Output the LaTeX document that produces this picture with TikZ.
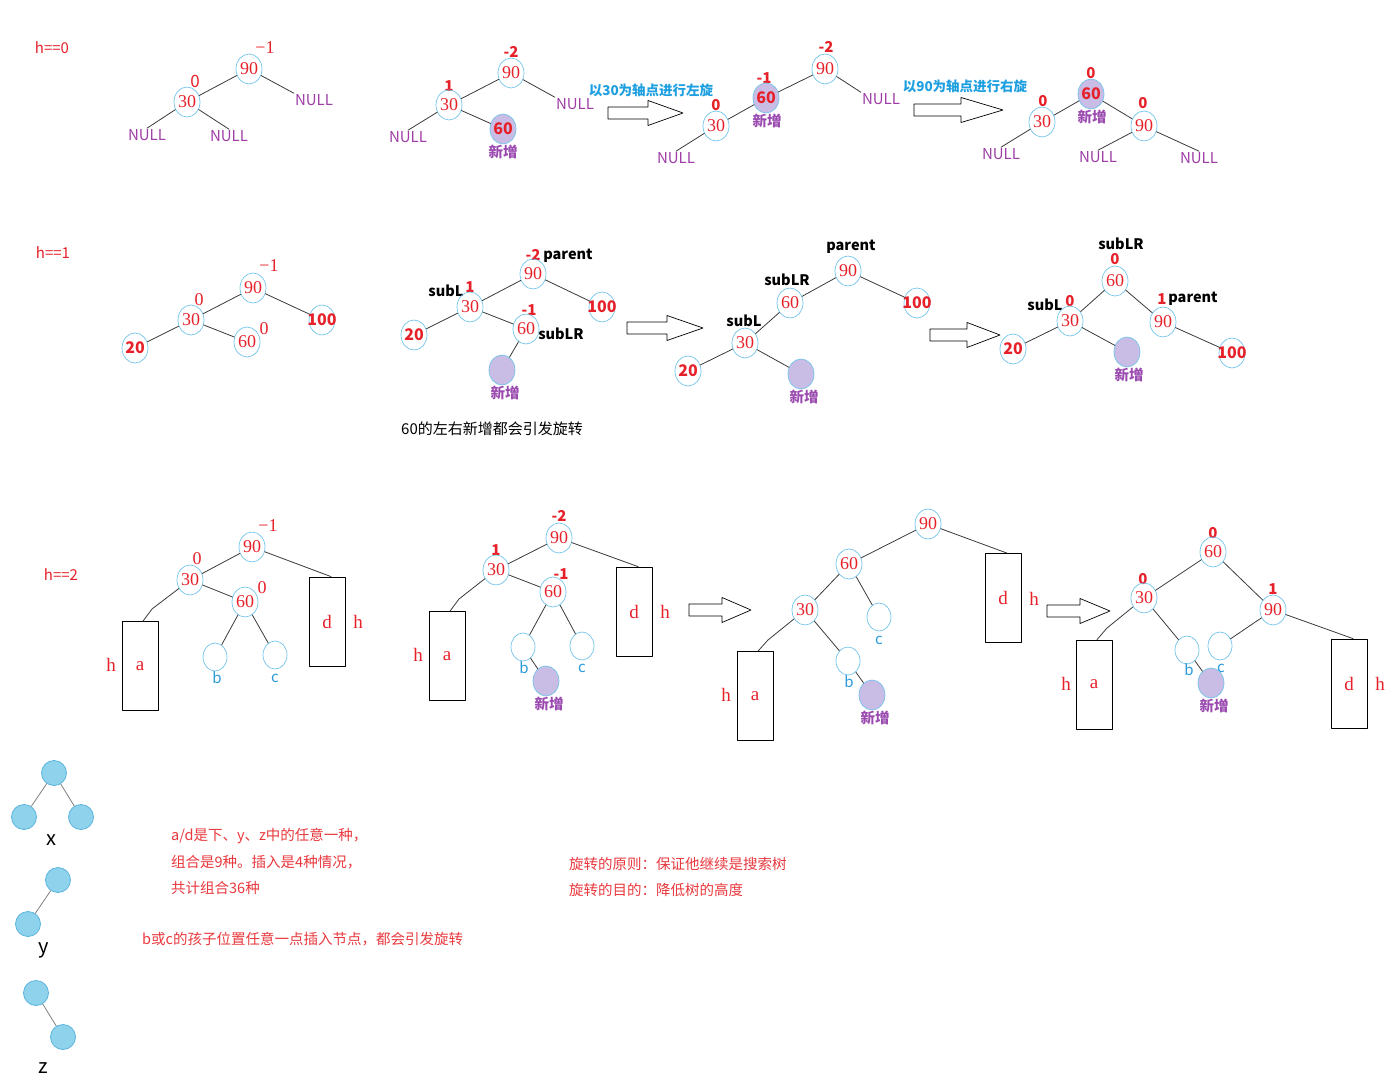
\documentclass[tikz,border=0pt]{standalone}
\usepackage{fontspec}
\setmainfont{Liberation Serif}
\newfontfamily\cjk{Noto Sans CJK SC}
\usetikzlibrary{shapes.geometric}
\definecolor{myred}{HTML}{E6212A}
\definecolor{txtred}{HTML}{E8383D}
\definecolor{nodeblue}{HTML}{72C3EA}
\definecolor{nullpurple}{HTML}{9E3DA6}
\definecolor{newpurple}{HTML}{9B4BB0}
\definecolor{lavender}{HTML}{C9BDE6}
\definecolor{rotblue}{HTML}{1E9FE0}
\definecolor{leafblue}{HTML}{2B9AD8}
\definecolor{linegray}{HTML}{3A3A3A}
\definecolor{ballfill}{HTML}{8ED3EB}
\definecolor{ballline}{HTML}{5AB4DF}
\tikzset{
  every picture/.style={line join=round, line cap=round},
  num/.style={ellipse, draw=nodeblue, line width=0.7pt, minimum width=26pt, minimum height=30pt, inner sep=0pt, text=myred, font=\fontsize{18}{18}\selectfont},
  bnum/.style={num, inner xsep=-6pt, font=\cjk\bfseries\fontsize{16}{16}\selectfont},
  newnode/.style={bnum, fill=lavender},
  leaf/.style={ellipse, draw=nodeblue, line width=0.7pt, minimum width=24pt, minimum height=28pt, inner sep=0pt},
  leaflbl/.style={text=leafblue, font=\cjk\fontsize{15}{15}\selectfont, inner sep=0pt},
  nul/.style={text=nullpurple, font=\cjk\fontsize{15}{15}\selectfont, inner sep=1pt},
  bf/.style={text=myred, font=\cjk\bfseries\fontsize{15}{15}\selectfont, inner sep=0pt},
  bal/.style={text=myred, font=\fontsize{18}{18}\selectfont, inner sep=0pt},
  lbl/.style={font=\cjk\bfseries\fontsize{14.5}{14.5}\selectfont, inner sep=0pt},
  xin/.style={text=newpurple, font=\cjk\bfseries\fontsize{14.5}{14.5}\selectfont, inner sep=0pt},
  rot/.style={text=rotblue, font=\cjk\bfseries\fontsize{13.5}{13.5}\selectfont, inner sep=0pt},
  hlbl/.style={text=myred, font=\cjk\fontsize{15}{15}\selectfont, inner sep=0pt},
  hgt/.style={text=myred, font=\fontsize{19}{19}\selectfont, inner sep=0pt},
  note/.style={text=txtred, font=\cjk\fontsize{14.5}{14.5}\selectfont, inner sep=0pt, anchor=west},
  subtree/.style={rectangle, draw=black, line width=0.8pt, minimum width=36pt, minimum height=89pt, inner sep=0pt, text=myred, font=\fontsize{19}{19}\selectfont},
  link/.style={draw=linegray, line width=0.8pt},
  hollowarr/.style={draw=black, line width=0.7pt, fill=white},
  ball/.style={circle, fill=ballfill, draw=ballline, line width=0.8pt, minimum size=25pt, inner sep=0pt},
  ballname/.style={font=\cjk\fontsize{20}{20}\selectfont, inner sep=0pt},
}

\begin{document}
\begin{tikzpicture}[x=1pt,y=-1pt]
\useasboundingbox (0,0) rectangle (1400,1091);
% h==0
\node[hlbl] (h0) at (52,48) {h==0};
\node[num] (a1n90) at (249,69) {90};
\node[num] (a1n30) at (187,102) {30};
\node[bal] (a1b90) at (265,48) {−1};
\node[bal,font=\cjk\fontsize{17}{17}\selectfont] (a1b30) at (195,81) {0};
\node[nul] (a1x1) at (314,100) {NULL};
\node[nul] (a1x2) at (147,135) {NULL};
\node[nul] (a1x3) at (229,136) {NULL};
\draw[link] (a1n90) -- (a1n30);
\draw[link] (a1n90) -- (a1x1.north west);
\draw[link] (a1n30) -- (a1x2.north);
\draw[link] (a1n30) -- (a1x3.north);

\node[bf] (a2b90) at (511,52) {-2};
\node[num] (a2n90) at (511,73) {90};
\node[bf] (a2b30) at (449,86) {1};
\node[num] (a2n30) at (449,105) {30};
\node[newnode] (a2n60) at (503,129) {60};
\node[xin] (a2new) at (503,152) {新增};
\node[nul] (a2x1) at (575,104) {NULL};
\node[nul] (a2x2) at (408,137) {NULL};
\draw[link] (a2n90) -- (a2n30);
\draw[link] (a2n90) -- (a2x1.north west);
\draw[link] (a2n30) -- (a2x2.north);
\draw[link] (a2n30) -- (a2n60);

\node[rot] (rot1) at (651,90) {以30为轴点进行左旋};
\draw[hollowarr] (608,107) -- (648,107) -- (648,100.5) -- (683,113) -- (648,125.5) -- (648,119) -- (608,119) -- cycle;

\node[bf] (a3b90) at (826,47) {-2};
\node[num] (a3n90) at (825,69) {90};
\node[bf] (a3b60) at (764,78) {-1};
\node[newnode] (a3n60) at (766,98) {60};
\node[xin] (a3new) at (767,121) {新增};
\node[bf] (a3b30) at (716,105) {0};
\node[num] (a3n30) at (716,126) {30};
\node[nul] (a3x1) at (881,99) {NULL};
\node[nul] (a3x2) at (676,158) {NULL};
\draw[link] (a3n90) -- (a3n60);
\draw[link] (a3n90) -- (a3x1.north west);
\draw[link] (a3n60) -- (a3n30);
\draw[link] (a3n30) -- (a3x2.north);

\node[rot] (rot2) at (965,86) {以90为轴点进行右旋};
\draw[hollowarr] (914,104) -- (961,104) -- (961,97.5) -- (1003,110) -- (961,122.5) -- (961,116) -- (914,116) -- cycle;

\node[bf] (a4b60) at (1091,73) {0};
\node[newnode] (a4n60) at (1091,94) {60};
\node[xin] (a4new) at (1092,117) {新增};
\node[bf] (a4b30) at (1043,101) {0};
\node[num] (a4n30) at (1042,122) {30};
\node[bf] (a4b90) at (1143,103) {0};
\node[num] (a4n90) at (1144,126) {90};
\node[nul] (a4x1) at (1001,154) {NULL};
\node[nul] (a4x2) at (1098,157) {NULL};
\node[nul] (a4x3) at (1199,158) {NULL};
\draw[link] (a4n60) -- (a4n30);
\draw[link] (a4n60) -- (a4n90);
\draw[link] (a4n30) -- (a4x1.north);
\draw[link] (a4n90) -- (a4x2.north);
\draw[link] (a4n90) -- (a4x3.north);

% h==1
\node[hlbl] (h1) at (53,253) {h==1};
\node[bal] (b1b90) at (269,266) {−1};
\node[num] (b1n90) at (253,288) {90};
\node[bal] (b1b30) at (199,300) {0};
\node[num] (b1n30) at (191,320) {30};
\node[bnum] (b1n100) at (322,320) {100};
\node[bal] (b1b60) at (264,329) {0};
\node[num] (b1n60) at (247,342) {60};
\node[bnum] (b1n20) at (135,348) {20};
\draw[link] (b1n90) -- (b1n30);
\draw[link] (b1n90) -- (b1n100);
\draw[link] (b1n30) -- (b1n20);
\draw[link] (b1n30) -- (b1n60);

\node[bf] (b2b90) at (533,255) {-2};
\node[lbl] (b2parent) at (568,256) {parent};
\node[num] (b2n90) at (533,274) {90};
\node[lbl] (b2subl) at (446,291) {subL};
\node[bf] (b2b30) at (470,287) {1};
\node[num] (b2n30) at (470,307) {30};
\node[bnum] (b2n100) at (602,307) {100};
\node[bf] (b2b60) at (529,310) {-1};
\node[num] (b2n60) at (526,329) {60};
\node[lbl] (b2sublr) at (561,334) {subLR};
\node[bnum] (b2n20) at (414,335) {20};
\node[newnode] (b2nnew) at (502,370) {};
\node[xin] (b2new) at (505,393) {新增};
\draw[link] (b2n90) -- (b2n30);
\draw[link] (b2n90) -- (b2n100);
\draw[link] (b2n30) -- (b2n20);
\draw[link] (b2n30) -- (b2n60);
\draw[link] (b2n60) -- (b2nnew);
\node[font=\cjk\fontsize{15}{15}\selectfont, inner sep=0pt] (b2note) at (492,429) {60的左右新增都会引发旋转};

\draw[hollowarr] (627,322) -- (667,322) -- (667,315.5) -- (703,328) -- (667,340.5) -- (667,334) -- (627,334) -- cycle;

\node[lbl] (b3parent) at (851,247) {parent};
\node[num] (b3n90) at (848,271) {90};
\node[lbl] (b3sublr) at (787,280) {subLR};
\node[num] (b3n60) at (790,303) {60};
\node[bnum] (b3n100) at (917,303) {100};
\node[lbl] (b3subl) at (744,321) {subL};
\node[num] (b3n30) at (745,343) {30};
\node[bnum] (b3n20) at (688,371) {20};
\node[newnode] (b3nnew) at (801,374) {};
\node[xin] (b3new) at (804,397) {新增};
\draw[link] (b3n90) -- (b3n60);
\draw[link] (b3n90) -- (b3n100);
\draw[link] (b3n60) -- (b3n30);
\draw[link] (b3n30) -- (b3n20);
\draw[link] (b3n30) -- (b3nnew);

\draw[hollowarr] (930,329) -- (967,329) -- (967,322.5) -- (1000,335) -- (967,347.5) -- (967,341) -- (930,341) -- cycle;

\node[lbl] (b4sublr) at (1121,244) {subLR};
\node[bf] (b4b60) at (1115,259) {0};
\node[num] (b4n60) at (1115,281) {60};
\node[lbl] (b4subl) at (1045,305) {subL};
\node[bf] (b4b30) at (1070,301) {0};
\node[num] (b4n30) at (1070,321) {30};
\node[bf] (b4b90) at (1162,299) {1};
\node[lbl] (b4parent) at (1193,299) {parent};
\node[num] (b4n90) at (1163,322) {90};
\node[bnum] (b4n20) at (1013,349) {20};
\node[newnode] (b4nnew) at (1127,352) {};
\node[xin] (b4new) at (1129,375) {新增};
\node[bnum] (b4n100) at (1232,353) {100};
\draw[link] (b4n60) -- (b4n30);
\draw[link] (b4n60) -- (b4n90);
\draw[link] (b4n30) -- (b4n20);
\draw[link] (b4n30) -- (b4nnew);
\draw[link] (b4n90) -- (b4n100);

% h==2
\node[hlbl] (h2) at (61,575) {h==2};
\node[bal] (c1b90) at (268,526) {−1};
\node[num] (c1n90) at (252,547) {90};
\node[bal] (c1b30) at (197,559) {0};
\node[num] (c1n30) at (190,580) {30};
\node[bal] (c1b60) at (262,588) {0};
\node[num] (c1n60) at (245,602) {60};
\node[subtree] (c1d) at (327,621.5) {d};
\node[hgt] (c1hd) at (358,622) {h};
\node[subtree] (c1a) at (140,666) {a};
\node[hgt] (c1ha) at (111,665) {h};
\node[leaf] (c1b) at (215,657) {};
\node[leaflbl] (c1bl) at (217,678) {b};
\node[leaf] (c1c) at (275,655) {};
\node[leaflbl] (c1cl) at (275,678) {c};
\draw[link] (c1n90) -- (c1n30);
\draw[link] (c1n90) -- ([xshift=4pt]c1d.north);
\draw[link] (c1n30) -- (152,609) -- ([xshift=3pt]c1a.north);
\draw[link] (c1n30) -- (c1n60);
\draw[link] (c1n60) -- (c1b);
\draw[link] (c1n60) -- (c1c);

\node[bf] (c2b90) at (559,516) {-2};
\node[num] (c2n90) at (559,538) {90};
\node[bf] (c2b30) at (496,550) {1};
\node[num] (c2n30) at (496,570) {30};
\node[bf] (c2b60) at (561,574) {-1};
\node[num] (c2n60) at (553,592) {60};
\node[subtree] (c2d) at (634,611.5) {d};
\node[hgt] (c2hd) at (665,612) {h};
\node[subtree] (c2a) at (447,656) {a};
\node[hgt] (c2ha) at (418,655) {h};
\node[leaf] (c2b) at (523,647) {};
\node[leaflbl] (c2bl) at (524,668) {b};
\node[leaf] (c2c) at (582,646) {};
\node[leaflbl] (c2cl) at (582,668) {c};
\node[newnode] (c2nnew) at (546,681) {};
\node[xin] (c2new) at (549,704) {新增};
\draw[link] (c2n90) -- (c2n30);
\draw[link] (c2n90) -- ([xshift=4pt]c2d.north);
\draw[link] (c2n30) -- (459,599) -- ([xshift=3pt]c2a.north);
\draw[link] (c2n30) -- (c2n60);
\draw[link] (c2n60) -- (c2b);
\draw[link] (c2n60) -- (c2c);
\draw[link] (c2b) -- (c2nnew);

\draw[hollowarr] (689,604) -- (722,604) -- (722,597.5) -- (751,610) -- (722,622.5) -- (722,616) -- (689,616) -- cycle;

\node[num] (c3n90) at (928,524) {90};
\node[num] (c3n60) at (849,564) {60};
\node[num] (c3n30) at (805,610) {30};
\node[leaf] (c3c) at (879,617) {};
\node[leaflbl] (c3cl) at (879,640) {c};
\node[subtree] (c3d) at (1003,598) {d};
\node[hgt] (c3hd) at (1034,599) {h};
\node[subtree] (c3a) at (755,696) {a};
\node[hgt] (c3ha) at (726,695) {h};
\node[leaf] (c3b) at (848,661) {};
\node[leaflbl] (c3bl) at (849,682) {b};
\node[newnode] (c3nnew) at (872,695) {};
\node[xin] (c3new) at (875,718) {新增};
\draw[link] (c3n90) -- (c3n60);
\draw[link] (c3n90) -- ([xshift=4pt]c3d.north);
\draw[link] (c3n60) -- (c3n30);
\draw[link] (c3n60) -- (c3c);
\draw[link] (c3n30) -- (768,640) -- ([xshift=3pt]c3a.north);
\draw[link] (c3n30) -- (c3b);
\draw[link] (c3b) -- (c3nnew);

\draw[hollowarr] (1047,605) -- (1080,605) -- (1080,598.5) -- (1110,611) -- (1080,623.5) -- (1080,617) -- (1047,617) -- cycle;

\node[bf] (c4b60) at (1213,533) {0};
\node[num] (c4n60) at (1213,552) {60};
\node[bf] (c4b30) at (1143,579) {0};
\node[num] (c4n30) at (1144,598) {30};
\node[bf] (c4b90) at (1273,589) {1};
\node[num] (c4n90) at (1273,610) {90};
\node[subtree] (c4a) at (1094,684.5) {a};
\node[hgt] (c4ha) at (1066,684) {h};
\node[leaf] (c4b) at (1187,650) {};
\node[leaflbl] (c4bl) at (1189,670) {b};
\node[leaf] (c4c) at (1220,646) {};
\node[leaflbl] (c4cl) at (1221,668) {c};
\node[newnode] (c4nnew) at (1211,683) {};
\node[xin] (c4new) at (1214,706) {新增};
\node[subtree] (c4d) at (1349,683.5) {d};
\node[hgt] (c4hd) at (1380,684) {h};
\draw[link] (c4n60) -- (c4n30);
\draw[link] (c4n60) -- (c4n90);
\draw[link] (c4n30) -- (1107,628) -- ([xshift=3pt]c4a.north);
\draw[link] (c4n30) -- (c4b);
\draw[link] (c4n90) -- (c4c);
\draw[link] (c4n90) -- ([xshift=4pt]c4d.north);
\draw[link] (c4b) -- (c4nnew);

% shapes x, y, z
\node[ball] (xr) at (54,773) {};
\node[ball] (xl) at (24,817) {};
\node[ball] (xrr) at (81,817) {};
\node[ballname] (xname) at (51,840) {x};
\draw[link,draw=gray] (xr) -- (xl);
\draw[link,draw=gray] (xr) -- (xrr);
\node[ball] (yr) at (58,880) {};
\node[ball] (yl) at (28,924) {};
\node[ballname] (yname) at (44,950) {y};
\draw[link,draw=gray] (yr) -- (yl);
\node[ball] (zr) at (36,993) {};
\node[ball] (zrr) at (63,1037) {};
\node[ballname] (zname) at (43,1068) {z};
\draw[link,draw=gray] (zr) -- (zrr);

\node[note] (t1) at (171,836) {a/d是下、y、z中的任意一种，};
\node[note] (t2) at (171,862) {组合是9种。插入是4种情况，};
\node[note] (t3) at (171,888) {共计组合36种};
\node[note] (t4) at (142,939) {b或c的孩子位置任意一点插入节点，都会引发旋转};
\node[note] (t5) at (569,864) {旋转的原则：保证他继续是搜索树};
\node[note] (t6) at (569,890) {旋转的目的：降低树的高度};
\end{tikzpicture}
\end{document}
